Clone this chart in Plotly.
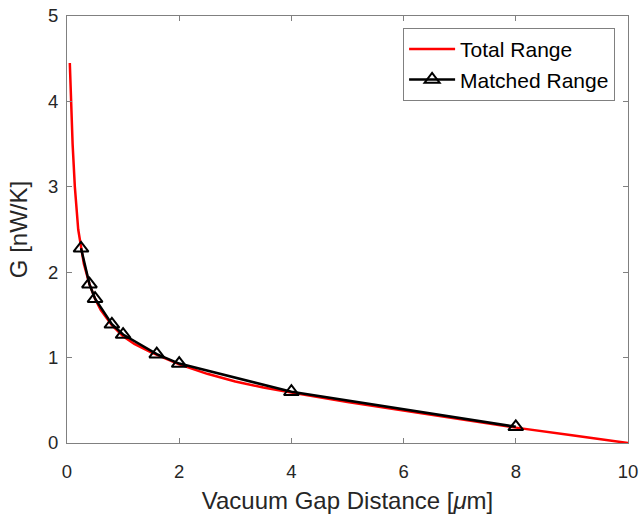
import plotly.graph_objects as go

total_x = [0.05, 0.07, 0.1, 0.14, 0.2, 0.25, 0.3, 0.4, 0.5, 0.6, 0.8, 1.0, 1.2, 1.5, 2.0, 2.5, 3.0, 3.5, 4.0, 5.0, 6.0, 7.0, 8.0, 9.0, 10.0]
total_y = [4.45, 4.0, 3.5, 3.0, 2.5, 2.3, 2.1, 1.86, 1.69, 1.56, 1.38, 1.25, 1.16, 1.06, 0.92, 0.81, 0.72, 0.65, 0.59, 0.48, 0.38, 0.28, 0.18, 0.09, 0.0]

matched_x = [0.25, 0.4, 0.5, 0.8, 1.0, 1.6, 2.0, 4.0, 8.0]
matched_y = [2.28, 1.86, 1.69, 1.39, 1.27, 1.04, 0.93, 0.60, 0.19]

x_ticks = [0, 2, 4, 6, 8, 10]
y_ticks = [0, 1, 2, 3, 4, 5]

font_family = "Liberation Sans, Arial, sans-serif"
text_color = "#262626"
axis_color = "#808080"

fig = go.Figure()
fig.add_trace(go.Scatter(x=total_x, y=total_y, mode="lines", name="Total Range",
                         line=dict(color="#ff0000", width=2.5)))
fig.add_trace(go.Scatter(x=matched_x, y=matched_y, mode="lines+markers", name="Matched Range",
                         line=dict(color="#000000", width=2.5),
                         marker=dict(symbol="triangle-up-open", size=13, color="#000000",
                                     line=dict(width=2, color="#000000"))))

axis_common = dict(showgrid=False, zeroline=False, showline=True, linecolor=axis_color, linewidth=1,
                   mirror="ticks", ticks="inside", ticklen=5, tickcolor=axis_color,
                   automargin=False,
                   tickfont=dict(family=font_family, size=18.5, color=text_color))

fig.update_layout(
    width=642, height=519,
    margin=dict(l=67, r=14, t=16, b=76),
    paper_bgcolor="white", plot_bgcolor="white",
    font=dict(family=font_family, color=text_color),
    xaxis=dict(range=[0, 10], tickvals=x_ticks, ticklabelstandoff=12,
               title=dict(text="Vacuum Gap Distance [<i>μ</i>m]", font=dict(size=24, family=font_family, color=text_color), standoff=10),
               **axis_common),
    yaxis=dict(range=[0, 5], tickvals=y_ticks, ticklabelstandoff=4,
               title=dict(text="G [nW/K]", font=dict(size=24, family=font_family, color=text_color), standoff=13),
               **axis_common),
    legend=dict(x=0.977, y=0.972, xanchor="right", yanchor="top",
                bgcolor="white", bordercolor=axis_color, borderwidth=1,
                font=dict(family=font_family, size=21, color="#000000"),
                tracegroupgap=0, itemwidth=46),
    showlegend=True,
)

fig.write_html("out.html")
